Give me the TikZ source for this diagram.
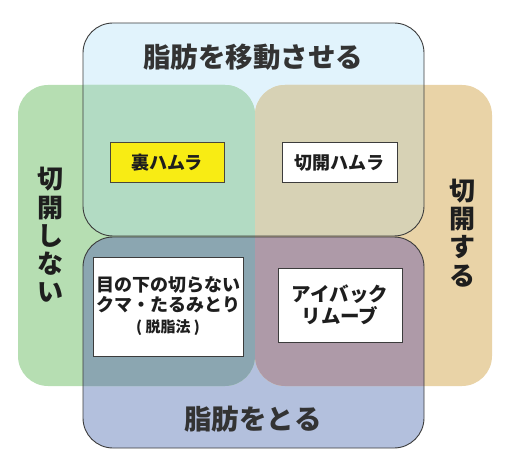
\documentclass[tikz,border=0pt]{standalone}
\usepackage{fontspec}
\newfontfamily\jp{Noto Sans CJK JP}
\definecolor{cTop}{HTML}{E1F3FC}
\definecolor{cBot}{HTML}{B3C0DD}
\definecolor{cGreen}{HTML}{B6DEB2}
\definecolor{cTan}{HTML}{E9D3A7}
\definecolor{cGreenTop}{HTML}{B2DBC3}
\definecolor{cTanTop}{HTML}{D7D2B5}
\definecolor{cGreenBot}{HTML}{8BA6B1}
\definecolor{cTanBot}{HTML}{AE9AA8}
\definecolor{cYellow}{HTML}{F8EC14}
\definecolor{cEdge}{HTML}{3C3C3C}
\definecolor{cText}{HTML}{1E1E1E}
\definecolor{cTitle}{HTML}{333333}
\tikzset{
  rc/.style={rounded corners=30pt},
  title/.style={font=\jp\bfseries\fontsize{27.5}{30}\selectfont, text=cTitle, inner sep=0pt},
  vlabel/.style={font=\jp\bfseries\fontsize{26}{28.2}\selectfont, text=cText, align=center, inner sep=0pt},
  boxtext/.style={font=\jp\bfseries\fontsize{18}{20.5}\selectfont, text=cText, align=center, inner sep=0pt},
  wbox/.style={draw=cEdge, line width=1pt, fill=white},
  ybox/.style={draw=black!70!yellow!60!black, line width=1pt, fill=cYellow},
}
\begin{document}
\begin{tikzpicture}[x=1pt,y=-1pt]
\useasboundingbox (0,0) rectangle (512,476);
\def\TopR{(83,23) rectangle (424,236)}
\def\BotR{(83,237) rectangle (424,448)}
\def\GreenR{(18,85) rectangle (255,386)}
\def\TanR{(255,85) rectangle (492,386)}
% base fills
\fill[rc, cTop] \TopR;
\fill[rc, cBot] \BotR;
\fill[rc, cGreen] \GreenR;
\fill[rc, cTan] \TanR;
% overlaps with top
\begin{scope}
  \clip[rc] \TopR;
  \fill[rc, cGreenTop] \GreenR;
  \fill[rc, cTanTop] \TanR;
\end{scope}
\begin{scope}
  \clip[rc] \BotR;
  \fill[rc, cGreenBot] \GreenR;
  \fill[rc, cTanBot] \TanR;
\end{scope}
% outlines
\draw[rc, cEdge, line width=0.9pt] \TopR;
\draw[rc, cEdge, line width=0.9pt] \BotR;
% titles
\node[title] (tmove) at (253,57) {脂肪を移動させる};
\node[title] (ttake) at (253,419) {脂肪をとる};
\node[vlabel] (lno) at (50,235) {切\\開\\し\\な\\い};
\node[vlabel] (lyes) at (462,233) {切\\開\\す\\る};
% boxes
\draw[ybox] (110,143) rectangle (224,183);
\node[boxtext] (ura) at (167,163) {裏ハムラ};
\draw[wbox] (282,143) rectangle (397,183);
\node[boxtext] (sek) at (339.5,163) {切開ハムラ};
\draw[wbox] (93,258) rectangle (243,356);
\node[boxtext] (dat) at (168,306) {目の下の切らない\\クマ・たるみとり\\{\fontsize{15}{20}\selectfont ( 脱脂法 )}};
\draw[wbox] (278,269) rectangle (402,342);
\node[boxtext, font=\jp\bfseries\fontsize{19.5}{22}\selectfont] (eye) at (340,305) {アイバック\\リムーブ};
\end{tikzpicture}
\end{document}
